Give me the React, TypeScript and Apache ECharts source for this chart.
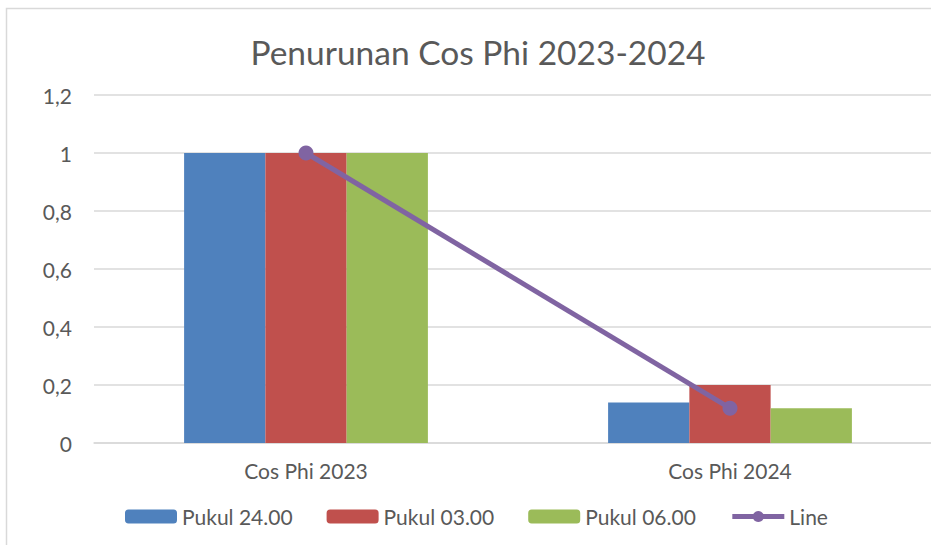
import React, { useEffect, useRef } from "react";
import * as echarts from "echarts";

const categories = ["Cos Phi 2023", "Cos Phi 2024"];
const pukul2400 = [1, 0.14];
const pukul0300 = [1, 0.2];
const pukul0600 = [1, 0.12];
const lineValues = [1, 0.12];
const seriesNames = ["Pukul 24.00", "Pukul 03.00", "Pukul 06.00", "Line"];

const FONT = "Lato";
const TXT = "#595959";

export default function App() {
  const ref = useRef<HTMLDivElement>(null);
  useEffect(() => {
    if (!ref.current) return;
    const chart = echarts.init(ref.current, null, { renderer: "svg" });
    chart.setOption({
      animation: false,
      backgroundColor: "#ffffff",
      title: {
        text: "Penurunan Cos Phi 2023-2024",
        left: 473,
        textAlign: "center",
        top: 30,
        textStyle: { fontFamily: FONT, fontSize: 33.5, fontWeight: "normal", color: TXT },
      },
      graphic: [
        {
          type: "rect",
          shape: { x: 6.5, y: 8.5, width: 1000, height: 600 },
          style: { fill: "none", stroke: "#D9D9D9", lineWidth: 1.5 },
          silent: true,
        },
      ],
      grid: { left: 94, top: 95, width: 848, height: 348 },
      legend: {
        left: 120,
        top: 501,
        itemWidth: 52,
        itemHeight: 14,
        itemGap: 34,
        itemTextGap: 5,
        itemStyle: { borderWidth: 0 },
        textStyle: { fontFamily: FONT, fontSize: 21, color: TXT },
        data: [
          seriesNames[0],
          seriesNames[1],
          seriesNames[2],
          { name: seriesNames[3], lineStyle: { width: 5 } },
        ],
      },
      xAxis: {
        type: "category",
        data: categories,
        axisLine: { lineStyle: { color: "#D9D9D9", width: 1.5 } },
        axisTick: { show: false },
        axisLabel: { fontFamily: FONT, fontSize: 21, color: TXT, margin: 17 },
      },
      yAxis: {
        type: "value",
        min: 0,
        max: 1.2,
        interval: 0.2,
        axisLine: { show: false },
        axisTick: { show: false },
        splitLine: { lineStyle: { color: "#D9D9D9", width: 1.5 } },
        axisLabel: {
          fontFamily: FONT,
          fontSize: 21,
          color: TXT,
          margin: 22,
          formatter: (v: number) => String(Math.round(v * 10) / 10).replace(".", ","),
        },
      },
      series: [
        { name: seriesNames[0], type: "bar", data: pukul2400, barGap: "0%", barCategoryGap: "42.5%", itemStyle: { color: "#4F81BD" } },
        { name: seriesNames[1], type: "bar", data: pukul0300, barGap: "0%", barCategoryGap: "42.5%", itemStyle: { color: "#C0504D" } },
        { name: seriesNames[2], type: "bar", data: pukul0600, barGap: "0%", barCategoryGap: "42.5%", itemStyle: { color: "#9BBB59" } },
        {
          name: seriesNames[3],
          type: "line",
          data: lineValues,
          symbol: "circle",
          symbolSize: 15,
          lineStyle: { color: "#8064A2", width: 5 },
          itemStyle: { color: "#8064A2" },
        },
      ],
    });
    return () => chart.dispose();
  }, []);
  return (
    <div style={{ position: "fixed", left: 0, top: 0, width: 931, height: 545, overflow: "hidden" }}>
      <div ref={ref} style={{ width: 960, height: 545 }} />
    </div>
  );
}
